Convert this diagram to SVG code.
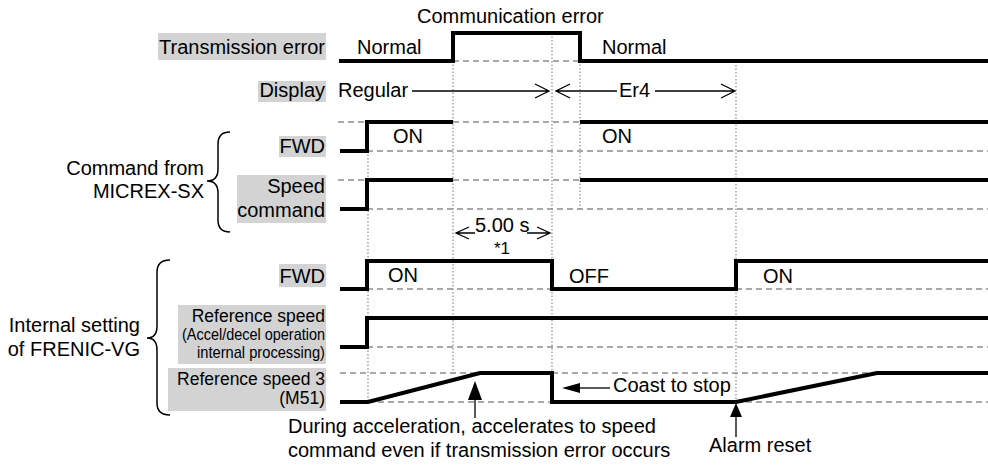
<svg xmlns="http://www.w3.org/2000/svg" width="988" height="467" viewBox="0 0 988 467">
<style>
text{font-family:"Liberation Sans",Arial,sans-serif;font-size:20px;fill:#000}
.sm{font-size:17.5px}
.e{text-anchor:end}
.m{text-anchor:middle}
.lbl{fill:#d3d3d3}
.sig{fill:none;stroke:#000;stroke-width:4;stroke-linejoin:miter;stroke-linecap:butt}
.dash{fill:none;stroke:#8c8c8c;stroke-width:1.5;stroke-dasharray:6 4}
.dot{fill:none;stroke:#8c8c8c;stroke-width:1.2;stroke-dasharray:1.5 2}
.thin{fill:none;stroke:#000;stroke-width:1.3}
.brace{fill:none;stroke:#000;stroke-width:1.5}
.head{fill:#000}
</style>

<g id="grid">
  <path class="dot" d="M368,151V402 M453,61V373 M552,33V373 M580,61V209 M736,65V402"/>
  <path class="dash" d="M453,61H580"/>
  <path class="dash" d="M338,122H367 M453,122H580 M367,151H988"/>
  <path class="dash" d="M338,180H367 M453,180H580 M367,209H988"/>
  <path class="dash" d="M367,289H552 M736,289H988"/>
  <path class="dash" d="M367,347H988"/>
  <path class="dash" d="M340,373H480 M552,373H877 M368,402H552 M736,402H988"/>
</g>

<g id="title">
  <text x="417" y="23">Communication error</text>
</g>

<g id="transmission-error">
  <rect class="lbl" x="158" y="33" width="168" height="27"/>
  <text class="e" x="325" y="54">Transmission error</text>
  <path class="sig" d="M339,61H453V33H580V61H988"/>
  <text x="357" y="54">Normal</text>
  <text x="602" y="54">Normal</text>
</g>

<g id="display">
  <rect class="lbl" x="258" y="81" width="68" height="21"/>
  <text class="e" x="325" y="97">Display</text>
  <text x="338" y="97">Regular</text>
  <text x="619" y="97">Er4</text>
</g>

<g id="micrex-brace">
  <path class="brace" d="M230,132Q218,132 218,144L218,169Q218,181 207,181Q218,181 218,193L218,220Q218,232 230,232"/>
  <text class="e" x="204" y="175">Command from</text>
  <text class="e" x="204" y="198">MICREX-SX</text>
</g>

<g id="micrex-fwd">
  <rect class="lbl" x="279" y="136" width="47" height="21"/>
  <text class="e" x="325" y="153">FWD</text>
  <path class="sig" d="M340,151H367V122H453 M580,122H988"/>
  <text x="393" y="143">ON</text>
  <text x="602" y="143">ON</text>
</g>

<g id="micrex-speed">
  <rect class="lbl" x="237" y="175" width="89" height="48"/>
  <text class="e" x="325" y="193">Speed</text>
  <text class="e" x="325" y="217">command</text>
  <path class="sig" d="M340,209H367V180H453 M580,180H988"/>
</g>

<g id="timeout">
  <text x="475" y="232">5.00 s</text>
  <text class="m" x="502" y="254" style="font-size:17px">*1</text>
</g>

<g id="frenic-brace">
  <path class="brace" d="M170,260Q157,260 157,272L157,326Q157,338 147,338Q157,338 157,350L157,403Q157,415 170,415"/>
  <text class="e" x="140" y="332">Internal setting</text>
  <text class="e" x="140" y="356">of FRENIC-VG</text>
</g>

<g id="internal-fwd">
  <rect class="lbl" x="279" y="264" width="47" height="23"/>
  <text class="e" x="325" y="283">FWD</text>
  <path class="sig" d="M340,289H367V261H552V289H736V261H988"/>
  <text x="388" y="282">ON</text>
  <text x="569" y="283">OFF</text>
  <text x="763" y="283">ON</text>
</g>

<g id="reference-speed">
  <rect class="lbl" x="178" y="305" width="148" height="59"/>
  <text class="e sm" x="325" y="322">Reference speed</text>
  <text class="e" x="325" y="340" style="font-size:17px" textLength="143" lengthAdjust="spacingAndGlyphs">(Accel/decel operation</text>
  <text class="e" x="325" y="358" style="font-size:17px" textLength="128" lengthAdjust="spacingAndGlyphs">internal processing)</text>
  <path class="sig" d="M340,347H367V318H988"/>
</g>

<g id="reference-speed-3">
  <rect class="lbl" x="168" y="368" width="158" height="43"/>
  <text class="e sm" x="325" y="385">Reference speed 3</text>
  <text class="e sm" x="325" y="404">(M51)</text>
  <path class="sig" d="M340,402H368L480,373H552V402H736L877,373H988"/>
</g>

<g id="connectors">
  <path class="thin" d="M412,91H549 M535,84L549,91L535,98"/>
  <path class="thin" d="M556,91H617 M570,84L556,91L570,98"/>
  <path class="thin" d="M655,91H735 M721,84L735,91L721,98"/>
  <path class="thin" d="M456,233H475 M527,233H550 M469,227L456,233L469,239 M537,227L550,233L537,239"/>
  <path class="thin" d="M475,398V418"/>
  <polygon class="head" points="475,381 468,400 482,400"/>
  <path class="thin" d="M736,414V437"/>
  <polygon class="head" points="736,403 730,417 742,417"/>
  <path class="thin" d="M578,388H610"/>
  <polygon class="head" points="562,388 580,383 580,393"/>
</g>

<g id="notes">
  <text x="613" y="392">Coast to stop</text>
  <text x="288" y="433">During acceleration, accelerates to speed</text>
  <text x="288" y="457">command even if transmission error occurs</text>
  <text x="709" y="452">Alarm reset</text>
</g>
</svg>
